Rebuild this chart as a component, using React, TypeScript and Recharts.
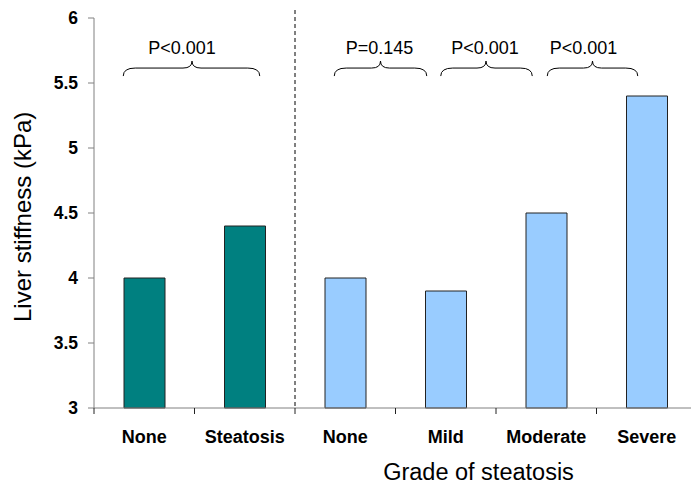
import React from "react";
import { Bar, BarChart, Cell, ReferenceLine, XAxis, YAxis } from "recharts";

const categoryKeys = ["any_none", "any_steatosis", "grade_none", "grade_mild", "grade_moderate", "grade_severe"];
const categoryLabels = ["None", "Steatosis", "None", "Mild", "Moderate", "Severe"];
const stiffness = [4.0, 4.4, 4.0, 3.9, 4.5, 5.4];
const groups = ["any", "any", "grade", "grade", "grade", "grade"];
const yTicks = [3, 3.5, 4, 4.5, 5, 5.5, 6];

const comparisons = [
  { from: 0, to: 1, label: "P<0.001" },
  { from: 2, to: 3, label: "P=0.145" },
  { from: 3, to: 4, label: "P<0.001" },
  { from: 4, to: 5, label: "P<0.001" },
];

// pixel tweaks for the hand-placed braces: [left, right, tip, text]
const braceLayout = [
  [-21, 15, -2.5, -10],
  [-11, -19, -15, -1],
  [-5, -14, -10, -1],
  [1, -9, -4, -9],
];

const data = categoryKeys.map((key, i) => ({
  key,
  label: categoryLabels[i],
  value: stiffness[i],
  group: groups[i],
}));

const colors: Record<string, string> = { any: "#008080", grade: "#99CCFF" };

const W = 697;
const H = 486;
const LEFT = 94;
const TOP = 18;
const X_AXIS_H = 78;
const PLOT_W = W - LEFT;
const BAND = PLOT_W / categoryKeys.length;
const AXIS_Y = H - X_AXIS_H;
const FONT = "Arial, 'Liberation Sans', sans-serif";

function XTick(props: any) {
  const { x, payload } = props;
  const i = categoryKeys.indexOf(payload.value);
  return (
    <g>
      <line x1={x - BAND / 2} y1={AXIS_Y} x2={x - BAND / 2} y2={AXIS_Y + 6} stroke="#222" />
      <text x={x} y={AXIS_Y + 35} textAnchor="middle" fontFamily={FONT} fontSize={18} fontWeight="bold" fill="#000">
        {categoryLabels[i]}
      </text>
    </g>
  );
}

function braceShape(idx: number, label: string) {
  return (props: any) => {
    const x1 = props.x1 ?? props.points?.[0]?.x;
    const x2 = props.x2 ?? props.points?.[1]?.x;
    const y = props.y1 ?? props.points?.[0]?.y;
    const [l, r, t, tx] = braceLayout[idx];
    const a = x1 + l;
    const b = x2 + r;
    const c = (x1 + x2) / 2 + t;
    const d = `M${a},${y + 8} Q${a},${y} ${a + 12},${y} L${c - 9},${y} Q${c},${y} ${c},${y - 7} Q${c},${y} ${c + 9},${y} L${b - 12},${y} Q${b},${y} ${b},${y + 8}`;
    return (
      <g>
        <path d={d} fill="none" stroke="#000" strokeWidth={1} />
        <text x={c + tx} y={y - 14} textAnchor="middle" fontFamily={FONT} fontSize={18} fill="#000">
          {label}
        </text>
      </g>
    );
  };
}

function dividerShape(props: any) {
  const x = (props.x1 ?? props.points?.[0]?.x) - BAND / 2;
  return <line x1={x} y1={10} x2={x} y2={AXIS_Y} stroke="#000" strokeDasharray="4 3" strokeWidth={1} />;
}

export default function App() {
  return (
    <div style={{ position: "fixed", left: 0, top: 0, width: 691, height: 486, overflow: "hidden", background: "#fff" }}>
      <BarChart width={W} height={H} data={data} margin={{ top: TOP, right: 0, bottom: 0, left: 0 }} barSize={41}>
        <XAxis
          dataKey="key"
          height={X_AXIS_H}
          stroke="#808080"
          tickLine={false}
          interval={0}
          tick={<XTick />}
          label={{ value: "Grade of steatosis", position: "insideBottom", offset: 6, dx: 83, fontSize: 23.5, fontFamily: FONT, fill: "#000" }}
        />
        <YAxis
          width={LEFT}
          domain={[3, 6]}
          ticks={yTicks}
          interval={0}
          stroke="#808080"
          tickSize={6}
          tickMargin={10}
          tick={{ fontSize: 17.5, fontWeight: "bold", fontFamily: FONT, fill: "#000" }}
          label={{ value: "Liver stiffness (kPa)", angle: -90, position: "insideLeft", offset: 22, dy: 109, fontSize: 24, fontFamily: FONT, fill: "#000" }}
        />
        <Bar dataKey="value" stroke="#222" strokeWidth={1} isAnimationActive={false}>
          {data.map((d) => (
            <Cell key={d.key} fill={colors[d.group]} />
          ))}
        </Bar>
        <ReferenceLine x={categoryKeys[2]} ifOverflow="visible" shape={dividerShape} />
        {comparisons.map((c, i) => (
          <ReferenceLine
            key={i}
            ifOverflow="visible"
            segment={[
              { x: categoryKeys[c.from], y: 5.615 },
              { x: categoryKeys[c.to], y: 5.615 },
            ]}
            shape={braceShape(i, c.label)}
          />
        ))}
      </BarChart>
    </div>
  );
}
